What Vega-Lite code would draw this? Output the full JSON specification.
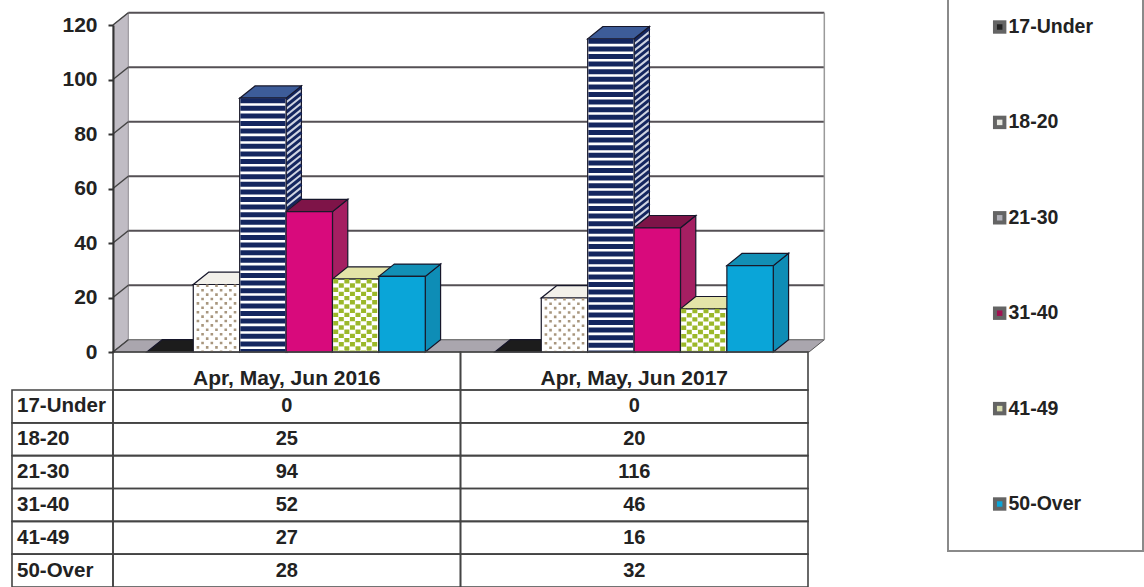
{"$schema":"https://vega.github.io/schema/vega-lite/v6.json","width":1144,"height":587,"padding":0,"autosize":{"type":"none"},"background":"white","config":{"view":{"stroke":null},"text":{"font":"Liberation Sans","fontWeight":"bold","color":"#222222"}},
"datasets":{
"bars":[{"period":"Apr, May, Jun 2016","age":"17-Under","value":0},{"period":"Apr, May, Jun 2016","age":"18-20","value":25},{"period":"Apr, May, Jun 2016","age":"21-30","value":94},{"period":"Apr, May, Jun 2016","age":"31-40","value":52},{"period":"Apr, May, Jun 2016","age":"41-49","value":27},{"period":"Apr, May, Jun 2016","age":"50-Over","value":28},{"period":"Apr, May, Jun 2017","age":"17-Under","value":0},{"period":"Apr, May, Jun 2017","age":"18-20","value":20},{"period":"Apr, May, Jun 2017","age":"21-30","value":116},{"period":"Apr, May, Jun 2017","age":"31-40","value":46},{"period":"Apr, May, Jun 2017","age":"41-49","value":16},{"period":"Apr, May, Jun 2017","age":"50-Over","value":32}],
"ticks":[{"tick":0},{"tick":20},{"tick":40},{"tick":60},{"tick":80},{"tick":100},{"tick":120}],
"ends":[{"t":0},{"t":1}],
"ages":[{"age":"17-Under"},{"age":"18-20"},{"age":"21-30"},{"age":"31-40"},{"age":"41-49"},{"age":"50-Over"}],
"box":[{"a":0,"b":1}]
},
"resolve":{"scale":{"x":"independent","y":"independent","color":"independent"}},
"layer":[
{"layer":[
{"data":{"name":"ends"},"transform":[{"calculate":"datum.t*0.33","as":"wx"},{"calculate":"120+datum.t*4.5","as":"wy"},{"calculate":"datum.t*4.5","as":"wy2"}],
"mark":{"type":"area","fill":"#c0bcc4","stroke":"#8f8b92","strokeWidth":1},
"encoding":{"x":{"field":"wx","type":"quantitative","axis":null,"scale":{"domain":[0,15],"range":[113,809],"nice":false,"zero":false}},
"y":{"field":"wy","type":"quantitative","stack":null,"axis":null,"scale":{"domain":[0,120],"range":[352,25],"nice":false,"zero":false}},"y2":{"field":"wy2"}}},
{"data":{"name":"ends"},"transform":[{"calculate":"datum.t*4.5","as":"fy"},{"calculate":"datum.t*0.33","as":"fx"},{"calculate":"15+datum.t*0.33","as":"fx2"}],
"mark":{"type":"area","orient":"horizontal","fill":"#aaa6ae","stroke":"#555555","strokeWidth":1},
"encoding":{"y":{"field":"fy","type":"quantitative","stack":null,"axis":null},"x":{"field":"fx","type":"quantitative","axis":null},"x2":{"field":"fx2"}}},
{"data":{"name":"ticks"},"transform":[{"calculate":"datum.tick+4.5","as":"back"},{"filter":"datum.tick>0"},{"calculate":"0.33","as":"xa"},{"calculate":"15.33","as":"xb"}],
"mark":{"type":"rule","color":"#555055","strokeWidth":2},
"encoding":{"x":{"field":"xa","type":"quantitative","axis":null},"x2":{"field":"xb"},"y":{"field":"back","type":"quantitative","axis":null}}},
{"data":{"name":"ticks"},"transform":[{"calculate":"datum.tick+4.5","as":"back"},{"calculate":"0","as":"xa"},{"calculate":"0.33","as":"xb"}],
"mark":{"type":"rule","color":"#444444","strokeWidth":1.5},
"encoding":{"x":{"field":"xa","type":"quantitative","axis":null},"x2":{"field":"xb"},"y":{"field":"tick","type":"quantitative","axis":null},"y2":{"field":"back"}}},
{"data":{"name":"box"},"transform":[{"calculate":"15.33","as":"xr"},{"calculate":"4.5","as":"lo"},{"calculate":"124.5","as":"hi"}],
"mark":{"type":"rule","color":"#9a9a9a","strokeWidth":1.5},
"encoding":{"x":{"field":"xr","type":"quantitative","axis":null},"y":{"field":"lo","type":"quantitative","axis":null},"y2":{"field":"hi"}}}
]},
{"data":{"name":"ticks"},"mark":{"type":"rule","opacity":0},
"encoding":{"y":{"field":"tick","type":"quantitative","scale":{"domain":[0,120],"range":[352,25],"nice":false,"zero":false},"axis":{"offset":-113,"zindex":1,"values":[0,20,40,60,80,100,120],"title":null,"grid":false,"domainColor":"#333333","domainWidth":2,"tickColor":"#333333","tickWidth":2,"tickSize":5,"labelFont":"Liberation Sans","labelFontWeight":"bold","labelFontSize":21,"labelColor":"#222222","labelPadding":11}}}},
{"data":{"name":"bars"},
"transform":[
{"calculate":"indexof(['17-Under','18-20','21-30','31-40','41-49','50-Over'],datum.age)","as":"i"},
{"calculate":"indexof(['Apr, May, Jun 2016','Apr, May, Jun 2017'],datum.period)","as":"p"},
{"calculate":"0.73+7.5*datum.p+datum.i","as":"x0"},
{"calculate":"datum.x0+1","as":"x1"},
{"calculate":"datum.period+datum.age","as":"key"}],
"resolve":{"scale":{"color":"independent"}},
"layer":[
{"transform":[{"calculate":"[0,1]","as":"t"},{"flatten":["t"]},{"calculate":"datum.x1+datum.t*0.33","as":"sx"},{"calculate":"datum.value+datum.t*4.55","as":"sy"},{"calculate":"datum.t*4.55","as":"sy2"}],
"mark":{"type":"area","stroke":"#16162a","strokeWidth":1.2},
"encoding":{"x":{"field":"sx","type":"quantitative","axis":null,"scale":{"domain":[0,15],"range":[113,809],"nice":false,"zero":false}},"y":{"field":"sy","type":"quantitative","stack":null,"axis":null,"scale":{"domain":[0,120],"range":[352,28],"nice":false,"zero":false}},"y2":{"field":"sy2"},"detail":{"field":"key"},
"color":{"field":"age","type":"nominal","legend":null,"scale":{"domain":["17-Under","18-20","21-30","31-40","41-49","50-Over"],"range":["#1c1c1c","#f4f2ee","#cfd4e2","#a51f62","#b5c14a","#0e8db6"]}}}},
{"transform":[{"filter":"datum.age=='21-30'"},{"calculate":"[0,2.4,4.8,7.2,9.6,12,14.4,16.8,19.2,21.6,24,26.4,28.8,31.2,33.6,36,38.4,40.8,43.2,45.6,48,50.4,52.8,55.2,57.6,60,62.4,64.8,67.2,69.6,72,74.4,76.8,79.2,81.6,84,86.4,88.8,91.2,93.6,96,98.4,100.8,103.2,105.6,108,110.4,112.8,115.2]","as":"level"},{"flatten":["level"]},{"filter":"datum.level<datum.value"},{"calculate":"datum.x1+0.33","as":"hx"},{"calculate":"datum.level+4.55","as":"hy"}],
"mark":{"type":"rule","color":"#14265f","strokeWidth":3},
"encoding":{"x":{"field":"x1","type":"quantitative","axis":null},"x2":{"field":"hx"},"y":{"field":"level","type":"quantitative","axis":null},"y2":{"field":"hy"}}},
{"transform":[{"calculate":"[0,1]","as":"t"},{"flatten":["t"]},{"calculate":"datum.x0+datum.t*0.33","as":"tx"},{"calculate":"datum.x1+datum.t*0.33","as":"tx2"},{"calculate":"datum.value+datum.t*4.55","as":"ty"}],
"mark":{"type":"area","orient":"horizontal","stroke":"#16162a","strokeWidth":1.2},
"encoding":{"x":{"field":"tx","type":"quantitative","axis":null},"x2":{"field":"tx2"},"y":{"field":"ty","type":"quantitative","stack":null,"axis":null},"detail":{"field":"key"},
"color":{"field":"age","type":"nominal","legend":null,"scale":{"domain":["17-Under","18-20","21-30","31-40","41-49","50-Over"],"range":["#1c1c1c","#f2f0ea","#3d5c99","#7e1448","#e4e4a8","#128fb5"]}}}},
{"transform":[{"filter":"datum.value>0"},{"calculate":"0","as":"base"}],
"mark":{"type":"rect","stroke":"#1a1a2a","strokeWidth":1.2},
"encoding":{"x":{"field":"x0","type":"quantitative","axis":null},"x2":{"field":"x1"},"y":{"field":"value","type":"quantitative","stack":null,"axis":null},"y2":{"field":"base"},
"color":{"field":"age","type":"nominal","legend":null,"scale":{"domain":["18-20","21-30","31-40","41-49","50-Over"],"range":["#ffffff","#ffffff","#d80a7c","#ffffff","#0aa5d8"]}}}},
{"transform":[{"filter":"datum.age=='21-30'"},{"calculate":"(datum.x0+datum.x1)/2","as":"mx"},{"calculate":"0","as":"base"}],
"mark":{"type":"rule","color":"#14265f","strokeWidth":45,"strokeDash":[5,2.6]},
"encoding":{"x":{"field":"mx","type":"quantitative","axis":null},"y":{"field":"value","type":"quantitative","axis":null},"y2":{"field":"base"}}},
{"transform":[{"filter":"datum.age=='18-20'"},{"calculate":"[0.1,0.3,0.5,0.7,0.9]","as":"c"},{"flatten":["c"]},{"calculate":"datum.x0+datum.c","as":"dx"},{"calculate":"0","as":"base"}],
"mark":{"type":"rule","color":"#a8967e","strokeWidth":2.6,"strokeDash":[2.6,6.2]},
"encoding":{"x":{"field":"dx","type":"quantitative","axis":null},"y":{"field":"value","type":"quantitative","axis":null},"y2":{"field":"base"}}},
{"transform":[{"filter":"datum.age=='18-20'"},{"calculate":"[0.2,0.4,0.6,0.8]","as":"c"},{"flatten":["c"]},{"calculate":"datum.x0+datum.c","as":"dx"},{"calculate":"0","as":"base"}],
"mark":{"type":"rule","color":"#a8967e","strokeWidth":2.6,"strokeDash":[2.6,6.2],"strokeDashOffset":4.4},
"encoding":{"x":{"field":"dx","type":"quantitative","axis":null},"y":{"field":"value","type":"quantitative","axis":null},"y2":{"field":"base"}}},
{"transform":[{"filter":"datum.age=='41-49'"},{"calculate":"[0.07,0.31,0.55,0.79]","as":"c"},{"flatten":["c"]},{"calculate":"datum.x0+datum.c","as":"dx"},{"calculate":"0","as":"base"}],
"mark":{"type":"rule","color":"#9bb82a","strokeWidth":5,"strokeDash":[4.4,4]},
"encoding":{"x":{"field":"dx","type":"quantitative","axis":null},"y":{"field":"value","type":"quantitative","axis":null},"y2":{"field":"base"}}},
{"transform":[{"filter":"datum.age=='41-49'"},{"calculate":"[0.19,0.43,0.67,0.91]","as":"c"},{"flatten":["c"]},{"calculate":"datum.x0+datum.c","as":"dx"},{"calculate":"0","as":"base"}],
"mark":{"type":"rule","color":"#9bb82a","strokeWidth":5,"strokeDash":[4.4,4],"strokeDashOffset":4.2},
"encoding":{"x":{"field":"dx","type":"quantitative","axis":null},"y":{"field":"value","type":"quantitative","axis":null},"y2":{"field":"base"}}}
]},
{"data":{"name":"bars"},"transform":[{"aggregate":[{"op":"count","as":"n"}],"groupby":["period"]}],
"layer":[
{"mark":{"type":"rect","fill":"transparent","stroke":"#444444","strokeWidth":1.6},
"encoding":{"x":{"field":"period","type":"nominal","axis":null,"scale":{"type":"band","range":[113,808],"paddingInner":0,"paddingOuter":0}},"y":{"datum":"Header","type":"nominal","axis":null,"scale":{"type":"band","domain":["Header"],"range":[352,390],"paddingInner":0,"paddingOuter":0}}}},
{"mark":{"type":"text","fontSize":21,"baseline":"middle"},
"encoding":{"x":{"field":"period","type":"nominal","axis":null},"y":{"datum":"Header","type":"nominal","axis":null,"bandPosition":0.71},"text":{"field":"period"}}}
]},
{"data":{"name":"bars"},
"layer":[
{"mark":{"type":"rect","fill":"transparent","stroke":"#444444","strokeWidth":1.6},
"encoding":{"x":{"field":"period","type":"nominal","axis":null,"scale":{"type":"band","range":[113,808],"paddingInner":0,"paddingOuter":0}},"y":{"field":"age","type":"nominal","axis":null,"scale":{"type":"band","domain":["17-Under","18-20","21-30","31-40","41-49","50-Over"],"range":[390,587],"paddingInner":0,"paddingOuter":0}}}},
{"mark":{"type":"text","fontSize":20,"baseline":"middle"},
"encoding":{"x":{"field":"period","type":"nominal","axis":null},"y":{"field":"age","type":"nominal","axis":null},"text":{"field":"value","type":"quantitative"}}}
]},
{"data":{"name":"ages"},
"layer":[
{"mark":{"type":"rect","fill":"transparent","stroke":"#444444","strokeWidth":1.6},
"encoding":{"x":{"datum":"Age","type":"nominal","axis":null,"scale":{"type":"band","domain":["Age"],"range":[12,113],"paddingInner":0,"paddingOuter":0}},"y":{"field":"age","type":"nominal","axis":null,"scale":{"type":"band","domain":["17-Under","18-20","21-30","31-40","41-49","50-Over"],"range":[390,587],"paddingInner":0,"paddingOuter":0}}}},
{"mark":{"type":"text","fontSize":20.5,"baseline":"middle","align":"left"},
"encoding":{"x":{"datum":"Age","type":"nominal","axis":null,"bandPosition":0.05},"y":{"field":"age","type":"nominal","axis":null},"text":{"field":"age"}}}
]},
{"data":{"name":"box"},
"mark":{"type":"rect","fill":"transparent","stroke":"#8a8a8a","strokeWidth":2},
"encoding":{"x":{"field":"a","type":"quantitative","axis":null,"scale":{"domain":[0,1],"range":[948,1143],"nice":false,"zero":false}},"x2":{"field":"b"},"y":{"field":"a","type":"quantitative","axis":null,"scale":{"domain":[0,1],"range":[551,-5],"nice":false,"zero":false}},"y2":{"field":"b"}}},
{"data":{"name":"ages"},"transform":[{"calculate":"0.265","as":"mx"},{"calculate":"0.31","as":"tx"}],
"layer":[
{"mark":{"type":"square","filled":true,"color":"#222222","size":180},
"encoding":{"x":{"field":"mx","type":"quantitative","axis":null,"scale":{"domain":[0,1],"range":[948,1143],"nice":false,"zero":false}},"y":{"field":"age","type":"nominal","axis":null,"scale":{"type":"point","domain":["17-Under","18-20","21-30","31-40","41-49","50-Over"],"range":[27,504],"padding":0}}}},
{"mark":{"type":"square","filled":true,"size":30,"opacity":1},
"encoding":{"x":{"field":"mx","type":"quantitative","axis":null},"y":{"field":"age","type":"nominal","axis":null},"color":{"field":"age","type":"nominal","legend":null,"scale":{"domain":["17-Under","18-20","21-30","31-40","41-49","50-Over"],"range":["#222222","#e8e8e0","#b0b0b8","#a01050","#d8dcb0","#0aa5d8"]}}}},
{"mark":{"type":"text","fontSize":19.5,"align":"left","baseline":"middle"},
"encoding":{"x":{"field":"tx","type":"quantitative","axis":null},"y":{"field":"age","type":"nominal","axis":null},"text":{"field":"age"}}}
]}
]}
